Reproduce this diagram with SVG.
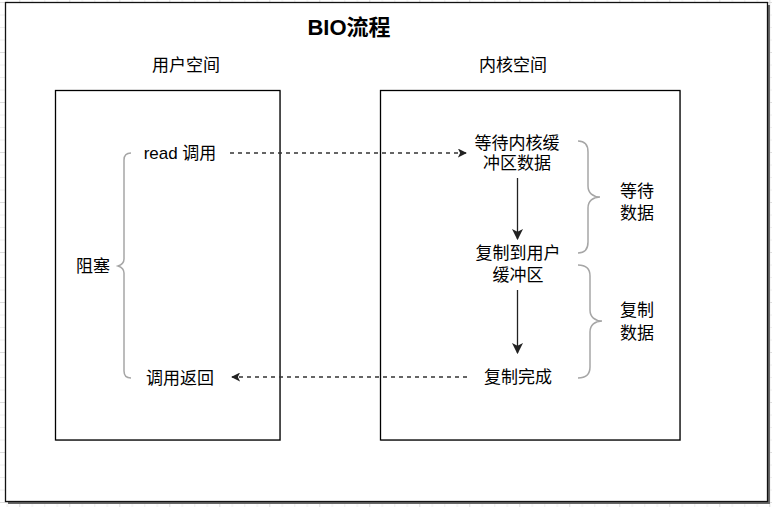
<svg xmlns="http://www.w3.org/2000/svg" width="772" height="507" viewBox="0 0 772 507">
<style>
  text { font-family: "Liberation Sans", "Noto Sans CJK SC", sans-serif; font-size: 17px; fill: #000; text-anchor: middle; dominant-baseline: central; }
  .title { font-size: 22px; font-weight: bold; }
  .box { fill: #fff; stroke: #000; stroke-width: 1.3; }
  .brace { fill: none; stroke: #a6a6a6; stroke-width: 1.5; }
  .dash { fill: none; stroke: #333; stroke-width: 1.3; stroke-dasharray: 4 4; }
  .solid { fill: none; stroke: #222; stroke-width: 1.3; }
</style>
<defs>
  <pattern id="grid" patternUnits="userSpaceOnUse" x="19.3" y="2" width="50" height="50">
    <path d="M0 0.5H50M0 13H50M0 25.5H50M0 38H50M0.5 0V50M13 0V50M25.5 0V50M38 0V50" stroke="#eeeeee" stroke-width="1" fill="none"/>
    <path d="M0 0.5H50M0.5 0V50" stroke="#dcdcdc" stroke-width="1" fill="none"/>
  </pattern>
  <marker id="arr" viewBox="0 0 10 10" refX="9" refY="5" markerWidth="9" markerHeight="9" markerUnits="userSpaceOnUse" orient="auto">
    <path d="M0 0L10 5L0 10L2.5 5Z" fill="#222"/>
  </marker>
  <marker id="arr2" viewBox="0 0 10 10" refX="9" refY="5" markerWidth="11" markerHeight="11" markerUnits="userSpaceOnUse" orient="auto">
    <path d="M0 0L10 5L0 10L2.5 5Z" fill="#222"/>
  </marker>
</defs>
<rect width="772" height="507" fill="#fff"/>
<rect width="772" height="507" fill="url(#grid)"/>
<g id="frame">
  <rect x="8" y="5" width="762" height="499" fill="#666"/>
  <rect x="5.5" y="2.5" width="762" height="499" fill="#fff" stroke="#111" stroke-width="1.3"/>
  <text class="title" x="349" y="27">BIO流程</text>
</g>
<g id="user-space">
  <rect x="56" y="91" width="225" height="350" fill="#ccc"/>
  <rect class="box" x="55.5" y="90.5" width="224.5" height="349.5"/>
  <text x="186" y="65">用户空间</text>
</g>
<g id="kernel-space">
  <rect x="381" y="91" width="300" height="350" fill="#ccc"/>
  <rect class="box" x="380.5" y="90.5" width="299.5" height="349.5"/>
  <text x="513" y="65">内核空间</text>
</g>
<g id="read-call"><text x="180" y="153">read 调用</text></g>
<g id="call-return"><text x="180" y="378">调用返回</text></g>
<g id="block-label">
  <text x="93" y="266">阻塞</text>
  <path class="brace" d="M131 153C126 153 124 155 124 160V259C124 263 121 265 118 266C121 267 124 269 124 273V371C124 376 126 378 131 378"/>
</g>
<g id="wait-kernel"><text x="517" y="143">等待内核缓</text><text x="517" y="163">冲区数据</text></g>
<g id="copy-user"><text x="518" y="253">复制到用户</text><text x="518" y="275">缓冲区</text></g>
<g id="copy-done"><text x="518" y="377">复制完成</text></g>
<g id="wait-data">
  <path class="brace" d="M578 141C585 141 588 145 588 152V186C588 193 593 197 600 197C593 197 588 201 588 208V242C588 249 585 253 578 253"/>
  <text x="637" y="191">等待</text><text x="637" y="213">数据</text>
</g>
<g id="copy-data">
  <path class="brace" d="M578 265C586 265 590 269 590 276V310C590 317 595 321 602 321C595 321 590 325 590 332V367C590 374 586 378 578 378"/>
  <text x="637" y="310">复制</text><text x="637" y="333">数据</text>
</g>
<g id="connectors">
  <path class="dash" d="M230 153H466" marker-end="url(#arr)"/>
  <path class="dash" d="M467 377H232" marker-end="url(#arr)"/>
  <path class="solid" d="M517.5 178V239" marker-end="url(#arr2)"/>
  <path class="solid" d="M517.5 290V353" marker-end="url(#arr2)"/>
</g>
</svg>
